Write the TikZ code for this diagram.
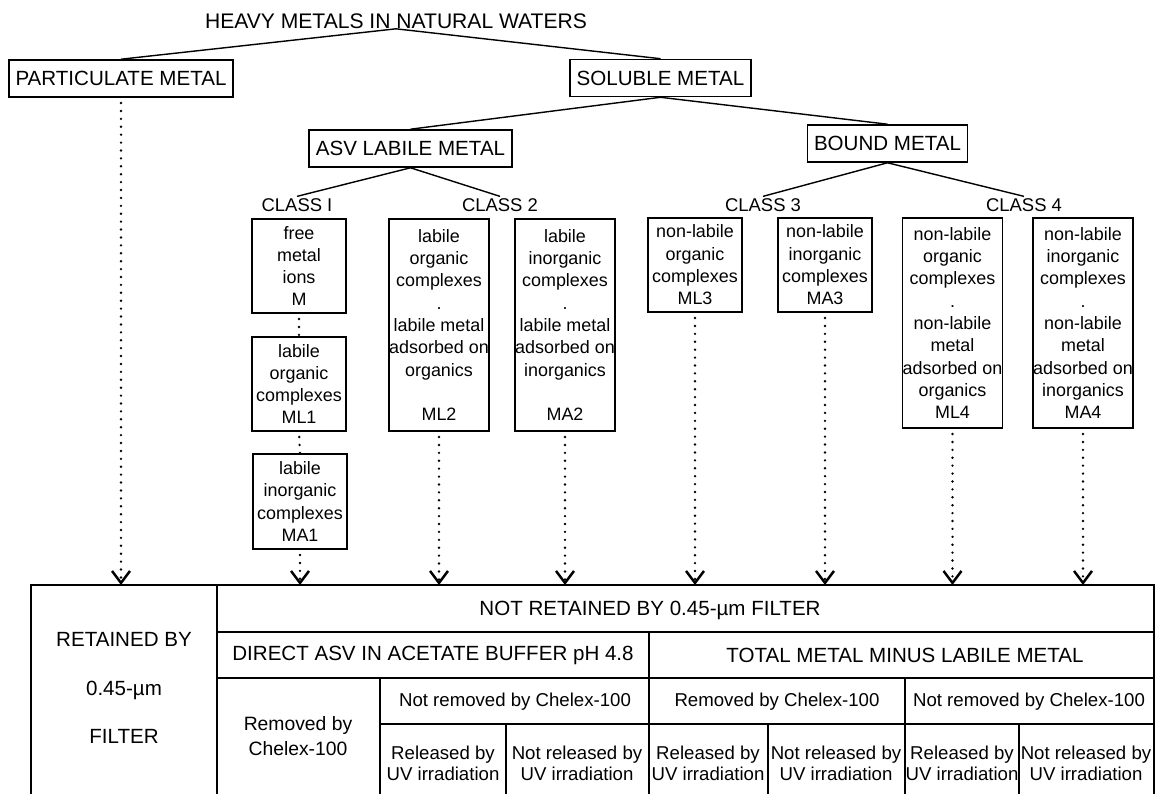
\documentclass[tikz,border=0pt]{standalone}
\usepackage{fontspec}
\setmainfont{Liberation Sans}
\setsansfont{Liberation Sans}
\usetikzlibrary{arrows.meta,positioning}
\tikzset{
  catbox/.style={draw,line width=.9pt,inner xsep=3.8pt,inner ysep=0pt,minimum height=.74cm,font=\fontsize{11.7}{13}\selectfont},
  specbox/.style={draw,line width=.9pt,inner sep=0pt,minimum width=1.88cm,align=center,font=\fontsize{10.2}{12.7}\selectfont},
  classlbl/.style={inner sep=1pt,font=\fontsize{10.5}{12}\selectfont},
  treeline/.style={line width=.8pt},
  dotlink/.style={line width=1.5pt,line cap=round,dash pattern=on 0pt off 4.5pt,shorten <=3pt},
  dotarrow/.style={dotlink,-{Straight Barb[length=2.4mm,width=3.6mm,line width=1.4pt]}},
  grid/.style={line width=.9pt},
  bighead/.style={inner sep=0pt,font=\fontsize{11.7}{13}\selectfont,align=center},
  smallhead/.style={inner sep=0pt,font=\fontsize{10.6}{12}\selectfont,align=center},
}

\begin{document}
\begin{tikzpicture}[x=0.02cm,y=-0.02cm,font=\sffamily]
  \useasboundingbox[fill=white] (0,0) rectangle (1157,794);
  \node[bighead,font=\fontsize{12}{14}\selectfont] (title) at (396,21) {HEAVY METALS IN NATURAL WATERS};
  \node[catbox] (part) at (121,78.5) {PARTICULATE METAL};
  \node[catbox] (sol) at (660.5,78) {SOLUBLE METAL};
  \node[catbox] (asv) at (410.5,148.5) {ASV LABILE METAL};
  \node[catbox] (bound) at (887.5,143.5) {BOUND METAL};
  \node[classlbl] (cls1) at (297,205) {CLASS I};
  \node[classlbl] (cls2) at (500,205) {CLASS 2};
  \node[classlbl] (cls3) at (763,205) {CLASS 3};
  \node[classlbl] (cls4) at (1024,205) {CLASS 4};
  \draw[treeline] (part.north) -- (title.south) -- (sol.north);
  \draw[treeline] (asv.north) -- (sol.south) -- (bound.north);
  \draw[treeline] (cls1.north) -- (asv.south) -- (cls2.north);
  \draw[treeline] (cls3.north) -- (bound.south) -- (cls4.north);

  \node[specbox,minimum height=1.88cm] (m) at (299,266) {free\\metal\\ions\\M};
  \node[specbox,minimum height=1.88cm] (ml1) at (299,384) {labile\\organic\\complexes\\ML1};
  \node[specbox,minimum height=1.9cm] (ma1) at (300,501.5) {labile\\inorganic\\complexes\\MA1};
  \node[specbox,minimum height=4.24cm] (ml2) at (439,325) {labile\\organic\\complexes\\.\\labile metal\\adsorbed on\\organics\\[12.7pt]ML2};
  \node[specbox,minimum height=4.24cm] (ma2) at (565,325) {labile\\inorganic\\complexes\\.\\labile metal\\adsorbed on\\inorganics\\[12.7pt]MA2};
  \node[specbox,minimum height=1.88cm] (ml3) at (695,265) {non-labile\\organic\\complexes\\ML3};
  \node[specbox,minimum height=1.88cm] (ma3) at (825,265) {non-labile\\inorganic\\complexes\\MA3};
  \node[specbox,minimum height=4.2cm] (ml4) at (952.5,323) {non-labile\\organic\\complexes\\.\\non-labile\\metal\\adsorbed on\\organics\\ML4};
  \node[specbox,minimum height=4.2cm] (ma4) at (1083,323) {non-labile\\inorganic\\complexes\\.\\non-labile\\metal\\adsorbed on\\inorganics\\MA4};

  \coordinate (tbl) at (31,585);
  \draw[grid] (31,794) -- (tbl) -- (1154,585) -- (1154,794);
  \draw[grid] (217,585) -- (217,794);
  \draw[grid] (217,632) -- (1154,632);
  \draw[grid] (217,678) -- (1154,678);
  \draw[grid] (380,724) -- (1154,724);
  \draw[grid] (649,632) -- (649,794);
  \draw[grid] (380,678) -- (380,794);
  \draw[grid] (905,678) -- (905,794);
  \foreach \x in {506,768,1019}
    \draw[grid] (\x,724) -- (\x,794);

  \draw[dotlink] (m.south) -- (ml1.north);
  \draw[dotlink] (ml1.south) -- (ma1.north);
  \foreach \n in {part,ma1,ml2,ma2,ml3,ma3,ml4,ma4}
    \draw[dotarrow] (\n.south) -- (\n.south |- tbl);

  \node[bighead,font=\fontsize{11.7}{27.6}\selectfont] (retained) at (124,688) {RETAINED BY\\0.45-µm\\FILTER};
  \node[bighead] (notret) at (650,610) {NOT RETAINED BY 0.45-µm FILTER};
  \node[bighead] (direct) at (433,655) {DIRECT ASV IN ACETATE BUFFER pH 4.8};
  \node[bighead] (total) at (905,655) {TOTAL METAL MINUS LABILE METAL};
  \node[smallhead,font=\fontsize{11}{14.2}\selectfont] (remA) at (298,736) {Removed by\\Chelex-100};
  \node[smallhead] (notremA) at (515,702) {Not removed by Chelex-100};
  \node[smallhead] (remB) at (777,702) {Removed by Chelex-100};
  \node[smallhead] (notremB) at (1029,702) {Not removed by Chelex-100};
  \node[smallhead] (relA) at (443,763) {Released by\\UV irradiation};
  \node[smallhead] (norelA) at (577,763) {Not released by\\UV irradiation};
  \node[smallhead] (relB) at (708,763) {Released by\\UV irradiation};
  \node[smallhead] (norelB) at (836,763) {Not released by\\UV irradiation};
  \node[smallhead] (relC) at (962,763) {Released by\\UV irradiation};
  \node[smallhead] (norelC) at (1086,763) {Not released by\\UV irradiation};
\end{tikzpicture}
\end{document}
